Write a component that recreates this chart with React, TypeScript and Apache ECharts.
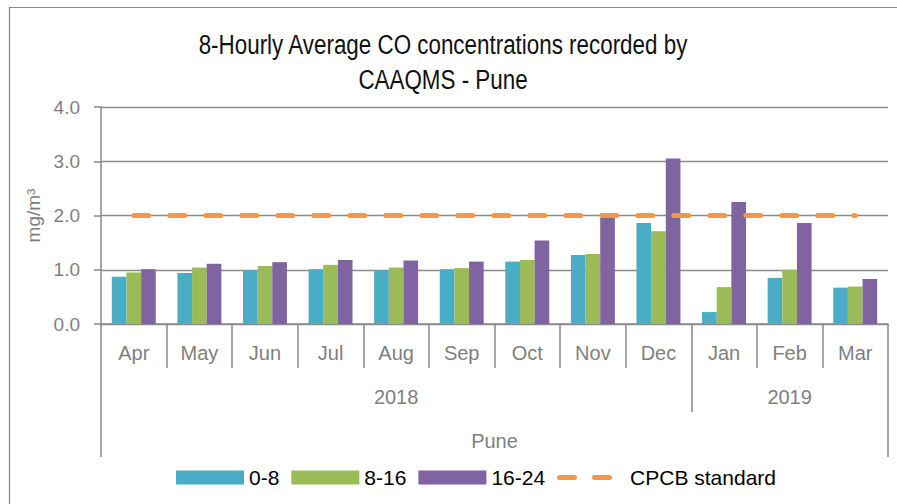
import React, { useEffect, useRef } from "react";
import * as echarts from "echarts";

const months = ["Apr", "May", "Jun", "Jul", "Aug", "Sep", "Oct", "Nov", "Dec", "Jan", "Feb", "Mar"];
const years = ["2018", "2018", "2018", "2018", "2018", "2018", "2018", "2018", "2018", "2019", "2019", "2019"];
const groupLabel = ["Pune"];
const s0to8 = [0.87, 0.94, 0.99, 1.01, 0.99, 1.01, 1.15, 1.27, 1.86, 0.22, 0.85, 0.67];
const s8to16 = [0.95, 1.04, 1.07, 1.09, 1.04, 1.03, 1.18, 1.29, 1.71, 0.68, 1.0, 0.69];
const s16to24 = [1.01, 1.11, 1.14, 1.18, 1.17, 1.15, 1.54, 1.96, 3.05, 2.25, 1.86, 0.83];
const cpcb = [2, 2, 2, 2, 2, 2, 2, 2, 2, 2, 2, 2];
const seriesNames = ["0-8", "8-16", "16-24", "CPCB standard"];
const titleText = "8-Hourly Average CO concentrations recorded by\nCAAQMS - Pune";

const REG = "'Liberation Sans', Arial, sans-serif";
const GRAY = "#8a8a8a";
const LABEL = "#7f7f7f";

const dashIcon =
  "path://M0,0L0,0.001L0.001,0Z M68,14L68,13.999L67.999,14Z " +
  "M2.5,4.5H17.5A2.5,2.5,0,0,1,17.5,9.5H2.5A2.5,2.5,0,0,1,2.5,4.5Z " +
  "M37.5,4.5H52.5A2.5,2.5,0,0,1,52.5,9.5H37.5A2.5,2.5,0,0,1,37.5,4.5Z";

export default function App() {
  const ref = useRef<HTMLDivElement>(null);
  useEffect(() => {
    if (!ref.current) return;
    const chart = echarts.init(ref.current, undefined, { renderer: "svg" });
    const colors = ["#4BACC6", "#9BBB59", "#8064A2", "#F79646"];
    chart.setOption({
      animation: false,
      backgroundColor: "#fff",
      graphic: [
        {
          type: "rect",
          shape: { x: 9.5, y: 7.5, width: 1000, height: 600 },
          style: { fill: "none", stroke: GRAY, lineWidth: 1.2 },
          silent: true,
        },
        {
          type: "text",
          x: 443,
          y: 27,
          scaleX: 0.8,
          style: {
            text: titleText,
            fill: "#111",
            font: `28px ${REG}`,
            lineHeight: 35,
            textAlign: "center",
            textVerticalAlign: "top",
          },
        },
      ],
      grid: { left: 101, right: 9, top: 107, bottom: 180, containLabel: false },
      legend: {
        left: 176,
        top: 467,
        padding: 0,
        itemWidth: 68,
        itemHeight: 14,
        itemGap: 12,
        textStyle: { fontFamily: REG, fontSize: 21, color: "#000" },
        data: [
          { name: seriesNames[0], icon: "rect" },
          { name: seriesNames[1], icon: "rect" },
          { name: seriesNames[2], icon: "rect" },
          { name: seriesNames[3], icon: dashIcon, itemStyle: { color: colors[3] } },
        ],
      },
      xAxis: [
        {
          type: "category",
          data: months,
          position: "bottom",
          axisLine: { show: true, lineStyle: { color: GRAY, width: 1.5 } },
          axisTick: { show: true, interval: 0, length: 44, lineStyle: { color: GRAY, width: 1.5 } },
          axisLabel: { interval: 0, margin: 19, color: LABEL, fontFamily: REG, fontSize: 20 },
        },
        {
          type: "category",
          data: years,
          position: "bottom",
          offset: 44,
          axisLine: { show: false },
          axisTick: {
            show: true,
            length: 44,
            interval: (i: number) => i === 0 || i === 9,
            lineStyle: { color: GRAY, width: 1.5 },
          },
          axisLabel: {
            interval: (i: number) => i === 4 || i === 10,
            margin: 19,
            color: LABEL,
            fontFamily: REG,
            fontSize: 20,
          },
        },
        {
          type: "category",
          data: groupLabel,
          position: "bottom",
          offset: 88,
          axisLine: { show: false },
          axisTick: { show: true, interval: 0, length: 45, lineStyle: { color: GRAY, width: 1.5 } },
          axisLabel: { interval: 0, margin: 19, color: LABEL, fontFamily: REG, fontSize: 20 },
        },
      ],
      yAxis: {
        type: "value",
        min: 0,
        max: 4,
        interval: 1,
        name: "mg/m³",
        nameLocation: "middle",
        nameRotate: 90,
        nameGap: 54,
        nameTextStyle: { color: LABEL, fontFamily: REG, fontSize: 19 },
        axisLine: { show: true, lineStyle: { color: GRAY, width: 1.5 } },
        axisTick: { show: true, length: 7, lineStyle: { color: GRAY, width: 1.5 } },
        axisLabel: {
          margin: 21,
          color: LABEL,
          fontFamily: REG,
          fontSize: 19,
          formatter: (v: number) => v.toFixed(1),
        },
        splitLine: { show: true, lineStyle: { color: GRAY, width: 1.3 } },
      },
      series: [
        {
          name: seriesNames[0],
          type: "bar",
          data: s0to8,
          barGap: "0%",
          barCategoryGap: "33%",
          itemStyle: { color: colors[0] },
        },
        {
          name: seriesNames[1],
          type: "bar",
          data: s8to16,
          barGap: "0%",
          barCategoryGap: "33%",
          itemStyle: { color: colors[1] },
        },
        {
          name: seriesNames[2],
          type: "bar",
          data: s16to24,
          barGap: "0%",
          barCategoryGap: "33%",
          itemStyle: { color: colors[2] },
        },
        {
          name: seriesNames[3],
          type: "line",
          data: cpcb,
          symbol: "none",
          z: 5,
          itemStyle: { color: colors[3] },
          lineStyle: { color: colors[3], width: 5, type: [15, 21], cap: "round" },
        },
      ],
    });
    return () => chart.dispose();
  }, []);
  return (
    <div
      ref={ref}
      style={{ position: "fixed", left: 0, top: 0, width: 897, height: 504, background: "#fff" }}
    />
  );
}
